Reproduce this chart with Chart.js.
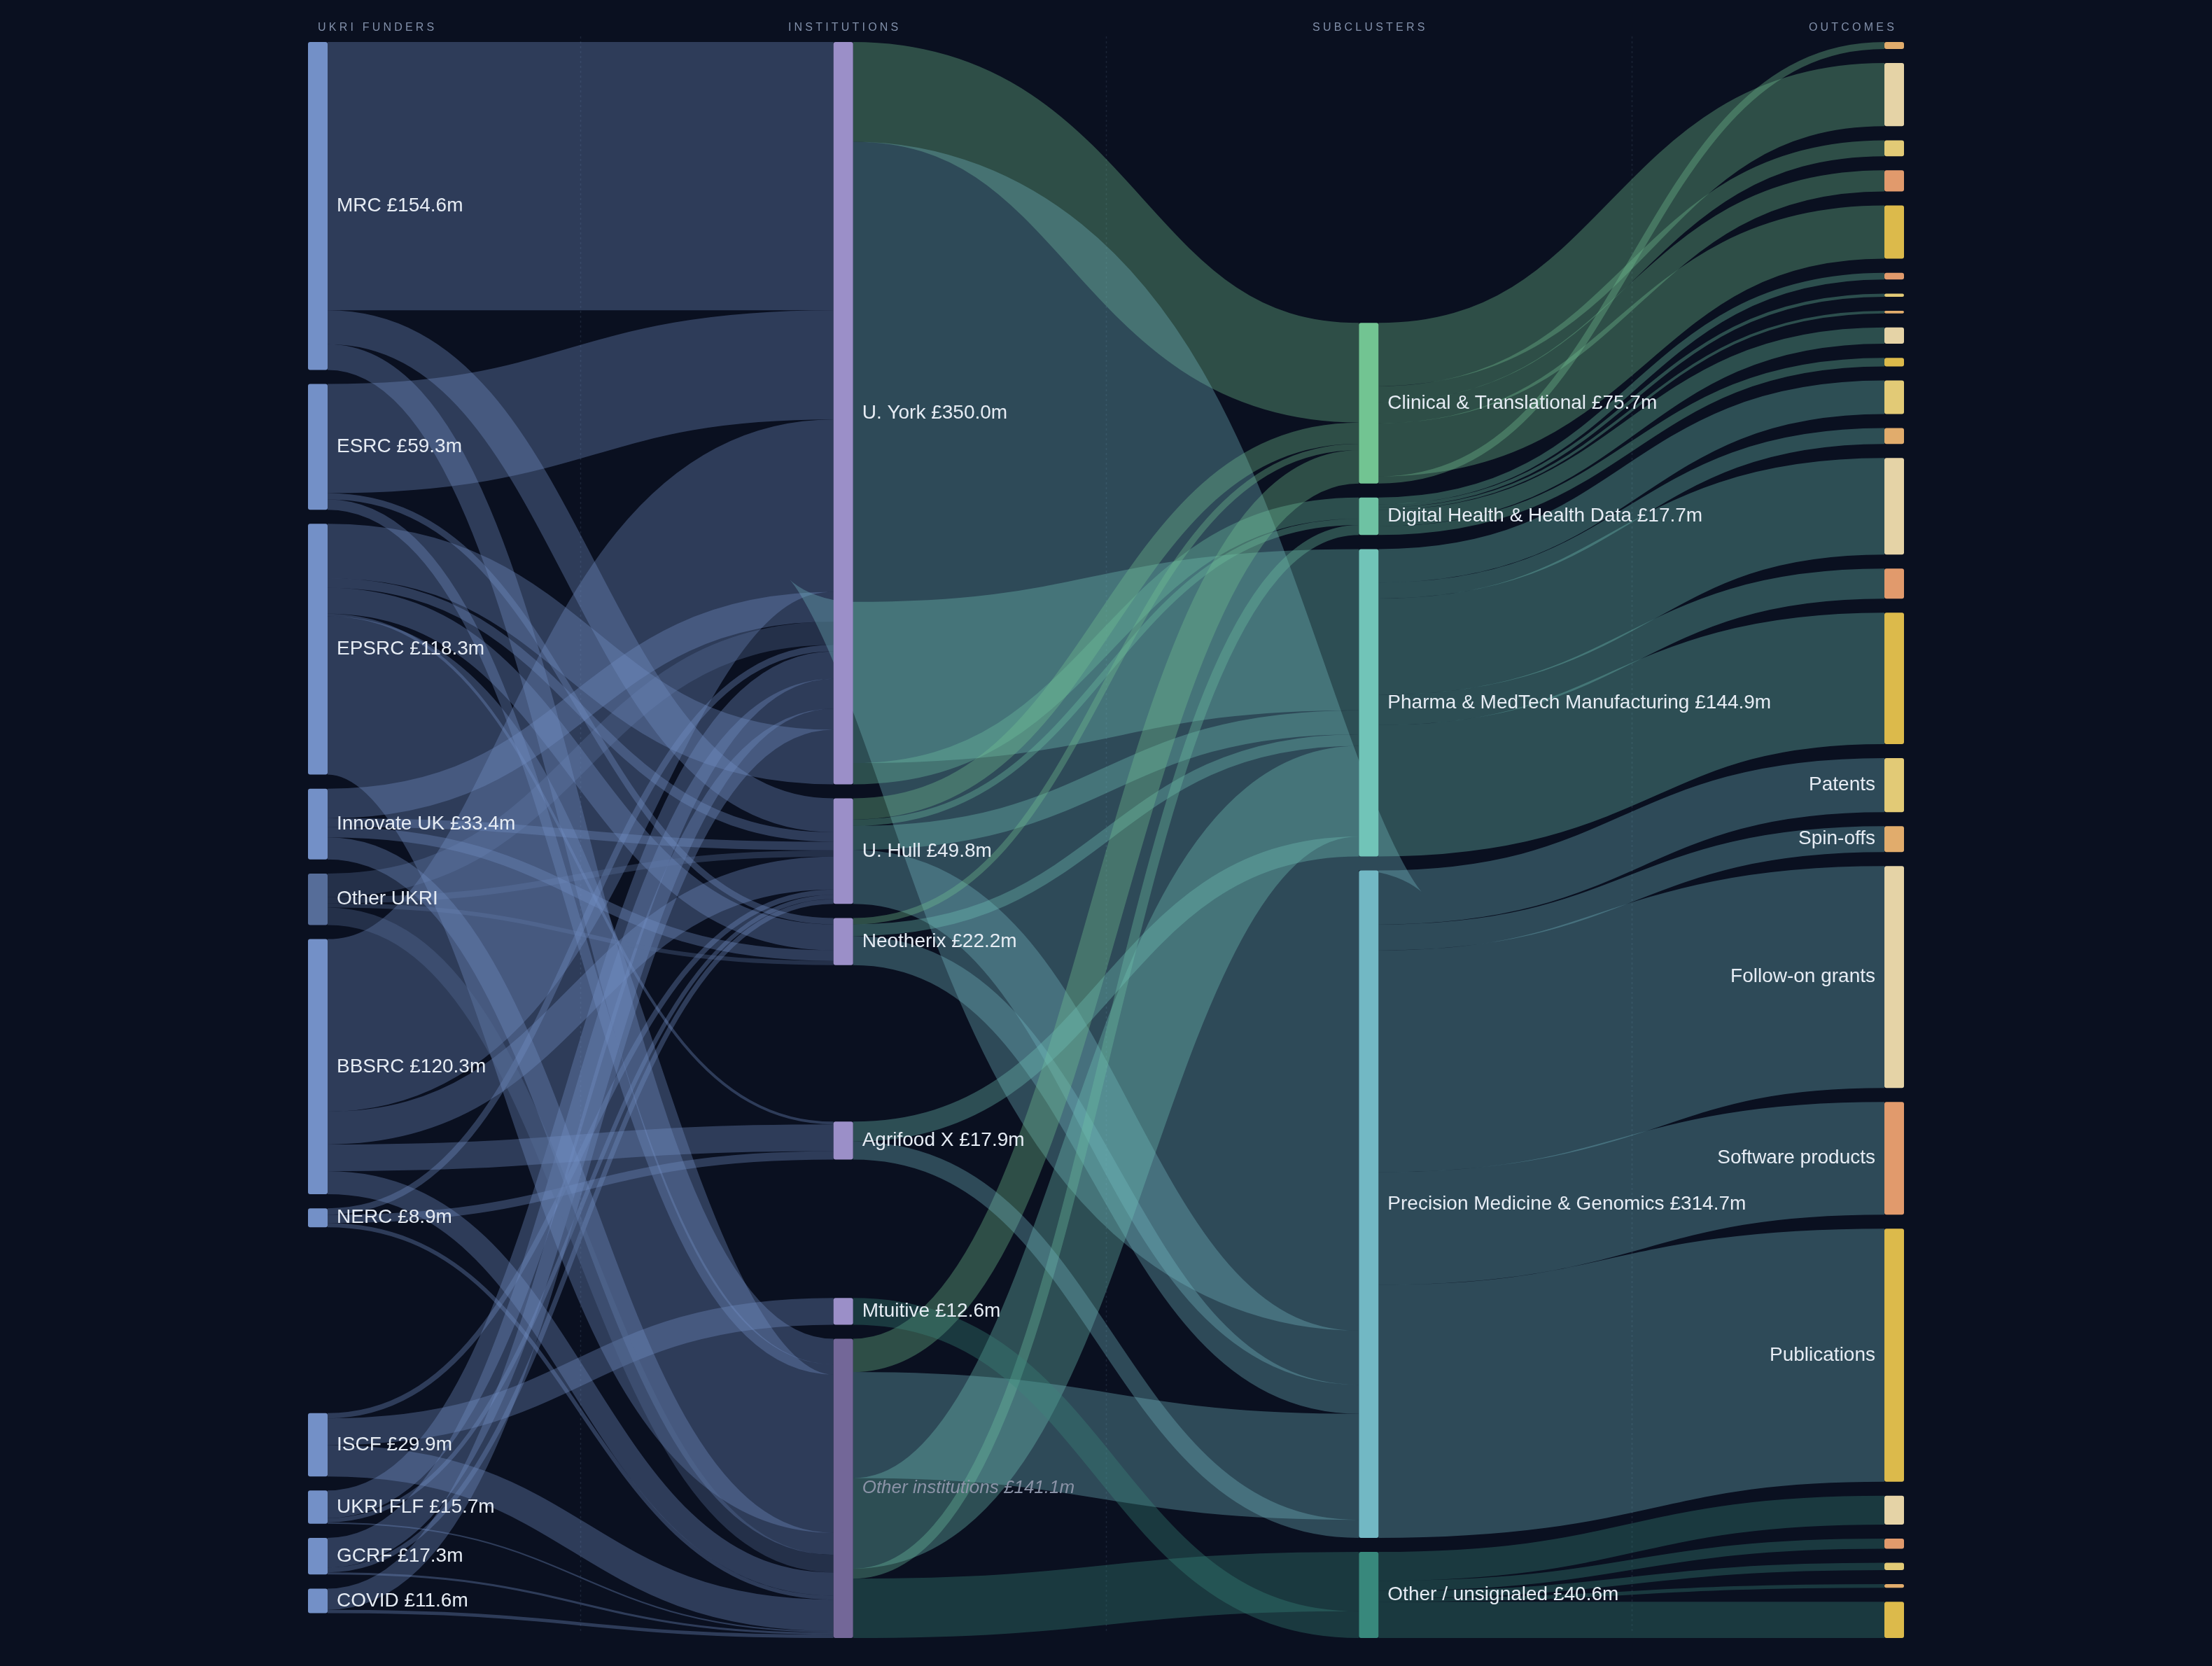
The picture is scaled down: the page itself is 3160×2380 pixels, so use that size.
<!DOCTYPE html>
<html>
<head>
<meta charset="utf-8">
<style>
  html, body { margin: 0; background: #0a1020; }
</style>
<script src="https://cdn.jsdelivr.net/npm/chart.js@4.4.1/dist/chart.umd.min.js"></script>
</head>
<body>
<canvas id="chart" width="3160" height="2380"></canvas>
<script>
const funders = ['MRC', 'ESRC', 'EPSRC', 'Innovate UK', 'Other UKRI', 'BBSRC', 'NERC', 'ISCF', 'UKRI FLF', 'GCRF', 'COVID'];
const institutions = ['U. York', 'U. Hull', 'Neotherix', 'Agrifood X', 'Mtuitive', 'Other institutions'];
const subclusters = ['Clinical & Translational', 'Digital Health & Health Data', 'Pharma & MedTech Manufacturing', 'Precision Medicine & Genomics', 'Other / unsignaled'];
const outcomes = ['Patents', 'Spin-offs', 'Follow-on grants', 'Software products', 'Publications'];

// funder -> institution, £m. Array order is the stacking order at both ends.
const fundingFlows = [
  ['MRC', 'U. York', 126.5],
  ['ESRC', 'U. York', 51.5],
  ['BBSRC', 'U. York', 81.3],
  ['Innovate UK', 'U. York', 14],
  ['Other UKRI', 'U. York', 11],
  ['NERC', 'U. York', 3],
  ['UKRI FLF', 'U. York', 13],
  ['GCRF', 'U. York', 14],
  ['COVID', 'U. York', 10],
  ['EPSRC', 'U. York', 25.7],
  ['MRC', 'U. Hull', 16],
  ['EPSRC', 'U. Hull', 4.5],
  ['Innovate UK', 'U. Hull', 4],
  ['Other UKRI', 'U. Hull', 3],
  ['BBSRC', 'U. Hull', 15.5],
  ['ISCF', 'U. Hull', 2.5],
  ['UKRI FLF', 'U. Hull', 2],
  ['GCRF', 'U. Hull', 2.3],
  ['ESRC', 'Neotherix', 3],
  ['EPSRC', 'Neotherix', 12.2],
  ['Innovate UK', 'Neotherix', 5],
  ['Other UKRI', 'Neotherix', 2],
  ['EPSRC', 'Agrifood X', 1.3],
  ['BBSRC', 'Agrifood X', 12.6],
  ['NERC', 'Agrifood X', 4],
  ['ISCF', 'Mtuitive', 12.6],
  ['MRC', 'Other institutions', 12.1],
  ['ESRC', 'Other institutions', 4.8],
  ['EPSRC', 'Other institutions', 74.6],
  ['Innovate UK', 'Other institutions', 10.4],
  ['Other UKRI', 'Other institutions', 8.3],
  ['BBSRC', 'Other institutions', 10.9],
  ['NERC', 'Other institutions', 1.9],
  ['ISCF', 'Other institutions', 14.8],
  ['UKRI FLF', 'Other institutions', 0.7],
  ['GCRF', 'Other institutions', 1],
  ['COVID', 'Other institutions', 1.6]
];

// institution -> subcluster, £m
const researchFlows = [
  ['U. York', 'Clinical & Translational', 47],
  ['U. York', 'Precision Medicine & Genomics', 217],
  ['U. York', 'Pharma & MedTech Manufacturing', 76],
  ['U. York', 'Digital Health & Health Data', 10],
  ['U. Hull', 'Clinical & Translational', 10],
  ['U. Hull', 'Digital Health & Health Data', 3],
  ['U. Hull', 'Pharma & MedTech Manufacturing', 11.3],
  ['U. Hull', 'Precision Medicine & Genomics', 25.5],
  ['Neotherix', 'Clinical & Translational', 3],
  ['Neotherix', 'Pharma & MedTech Manufacturing', 5.5],
  ['Neotherix', 'Precision Medicine & Genomics', 13.7],
  ['Other institutions', 'Clinical & Translational', 15.7],
  ['Other institutions', 'Precision Medicine & Genomics', 50],
  ['Other institutions', 'Pharma & MedTech Manufacturing', 42.7],
  ['Other institutions', 'Digital Health & Health Data', 4.7],
  ['Other institutions', 'Other / unsignaled', 28],
  ['Agrifood X', 'Pharma & MedTech Manufacturing', 9.4],
  ['Agrifood X', 'Precision Medicine & Genomics', 8.5],
  ['Mtuitive', 'Other / unsignaled', 12.6]
];

// subcluster -> outcome, £m
const outcomeFlows = [
  ['Clinical & Translational', 'Follow-on grants', 29.8],
  ['Clinical & Translational', 'Patents', 7.5],
  ['Clinical & Translational', 'Software products', 10.0],
  ['Clinical & Translational', 'Publications', 25.1],
  ['Clinical & Translational', 'Spin-offs', 3.3],
  ['Digital Health & Health Data', 'Software products', 3.2],
  ['Digital Health & Health Data', 'Patents', 1.5],
  ['Digital Health & Health Data', 'Spin-offs', 1.2],
  ['Digital Health & Health Data', 'Follow-on grants', 7.7],
  ['Digital Health & Health Data', 'Publications', 4.1],
  ['Pharma & MedTech Manufacturing', 'Patents', 15.8],
  ['Pharma & MedTech Manufacturing', 'Spin-offs', 7.5],
  ['Pharma & MedTech Manufacturing', 'Follow-on grants', 45.5],
  ['Pharma & MedTech Manufacturing', 'Software products', 14.2],
  ['Pharma & MedTech Manufacturing', 'Publications', 61.9],
  ['Precision Medicine & Genomics', 'Patents', 25.5],
  ['Precision Medicine & Genomics', 'Spin-offs', 12.2],
  ['Precision Medicine & Genomics', 'Follow-on grants', 104.6],
  ['Precision Medicine & Genomics', 'Software products', 53.1],
  ['Precision Medicine & Genomics', 'Publications', 119.3],
  ['Other / unsignaled', 'Follow-on grants', 13.6],
  ['Other / unsignaled', 'Software products', 4.8],
  ['Other / unsignaled', 'Patents', 3.4],
  ['Other / unsignaled', 'Spin-offs', 1.7],
  ['Other / unsignaled', 'Publications', 17.1]
];

// order of the outcome boxes in the last column, per subcluster
const outcomeStack = [
  ['Clinical & Translational', ['Spin-offs', 'Follow-on grants', 'Patents', 'Software products', 'Publications']],
  ['Digital Health & Health Data', ['Software products', 'Patents', 'Spin-offs', 'Follow-on grants', 'Publications']],
  ['Pharma & MedTech Manufacturing', ['Patents', 'Spin-offs', 'Follow-on grants', 'Software products', 'Publications']],
  ['Precision Medicine & Genomics', ['Patents', 'Spin-offs', 'Follow-on grants', 'Software products', 'Publications']],
  ['Other / unsignaled', ['Follow-on grants', 'Software products', 'Patents', 'Spin-offs', 'Publications']]
];
const labelledOutcomeGroup = 'Precision Medicine & Genomics';
const columnTitles = ['UKRI FUNDERS', 'INSTITUTIONS', 'SUBCLUSTERS', 'OUTCOMES'];

const BG = '#0a1020';
const funderColor = '#7390c7';
const otherFunderColor = '#566d99';
const institutionColor = '#9b8fc8';
const otherInstitutionColor = '#736798';
const subclusterColors = ['#72c492', '#6ec2a3', '#71c4b8', '#72b8c4', '#38887c'];
const outcomeColors = ['#e2ca76', '#e1ac6c', '#e5d3a6', '#e19a6c', '#dcba4b'];

const Y_MAX = 750;        // y axis units (≈ £m)
const NODE_PAD = 6.6;     // gap between boxes, in y units
const NODE_HALF = 14;     // px
const LABEL_FONT = '28px "Liberation Sans", Arial, sans-serif';

const sum = (arr, f) => arr.reduce((s, d) => s + f(d), 0);
const fmt = v => '£' + v.toFixed(1) + 'm';

function rgba(hex, a) {
  const n = parseInt(hex.slice(1), 16);
  return `rgba(${n >> 16}, ${(n >> 8) & 255}, ${n & 255}, ${a})`;
}

function buildGraph() {
  const nodes = [];
  const byKey = {};
  const add = (key, name, layer, color, extra) => {
    const n = Object.assign({ key, name, layer, color }, extra || {});
    nodes.push(n);
    byKey[key] = n;
  };
  funders.forEach(f => add('f:' + f, f, 0, f === 'Other UKRI' ? otherFunderColor : funderColor));
  institutions.forEach(i => add('i:' + i, i, 1, i === 'Other institutions' ? otherInstitutionColor : institutionColor));
  subclusters.forEach((s, k) => add('s:' + s, s, 2, subclusterColors[k]));
  outcomeStack.forEach(([s, list]) => list.forEach(o =>
    add('o:' + s + '|' + o, o, 3, outcomeColors[outcomes.indexOf(o)], { group: s })));

  const links = [];
  fundingFlows.forEach(([a, b, v]) => {
    const src = byKey['f:' + a];
    links.push({ source: src, target: byKey['i:' + b], value: v, color: src.color });
  });
  researchFlows.forEach(([a, b, v]) => {
    const tgt = byKey['s:' + b];
    links.push({ source: byKey['i:' + a], target: tgt, value: v, color: tgt.color });
  });
  outcomeFlows.forEach(([a, b, v]) => {
    const src = byKey['s:' + a];
    links.push({ source: src, target: byKey['o:' + a + '|' + b], value: v, color: src.color });
  });
  return { nodes, links };
}

// d3-sankey style layout (fixed node order, links kept in input order)
function layoutSankey(graph, y0, y1, nodePadding, iterations) {
  const { nodes, links } = graph;
  nodes.forEach(n => { n.sourceLinks = []; n.targetLinks = []; });
  links.forEach(l => { l.source.sourceLinks.push(l); l.target.targetLinks.push(l); });
  nodes.forEach(n => {
    n.value = Math.max(sum(n.sourceLinks, l => l.value), sum(n.targetLinks, l => l.value));
  });
  const columns = [];
  nodes.forEach(n => { (columns[n.layer] = columns[n.layer] || []).push(n); });

  const py = Math.min(nodePadding, (y1 - y0) / (Math.max(...columns.map(c => c.length)) - 1));
  const ky = Math.min(...columns.map(c => (y1 - y0 - (c.length - 1) * py) / sum(c, n => n.value)));

  columns.forEach(col => {
    let y = y0;
    col.forEach(n => {
      n.y0 = y;
      n.y1 = y + n.value * ky;
      y = n.y1 + py;
      n.sourceLinks.forEach(l => { l.width = l.value * ky; });
    });
    const s = (y1 - y + py) / (col.length + 1);
    col.forEach((n, i) => { n.y0 += s * (i + 1); n.y1 += s * (i + 1); });
  });

  const targetTop = (source, target) => {
    let y = source.y0 - (source.sourceLinks.length - 1) * py / 2;
    for (const l of source.sourceLinks) { if (l.target === target) break; y += l.width + py; }
    for (const l of target.targetLinks) { if (l.source === source) break; y -= l.width; }
    return y;
  };
  const sourceTop = (source, target) => {
    let y = target.y0 - (target.targetLinks.length - 1) * py / 2;
    for (const l of target.targetLinks) { if (l.source === source) break; y += l.width + py; }
    for (const l of source.sourceLinks) { if (l.target === target) break; y -= l.width; }
    return y;
  };
  const pushDown = (col, y, i, alpha) => {
    for (; i < col.length; ++i) {
      const n = col[i];
      const dy = (y - n.y0) * alpha;
      if (dy > 1e-6) { n.y0 += dy; n.y1 += dy; }
      y = n.y1 + py;
    }
  };
  const pushUp = (col, y, i, alpha) => {
    for (; i >= 0; --i) {
      const n = col[i];
      const dy = (n.y1 - y) * alpha;
      if (dy > 1e-6) { n.y0 -= dy; n.y1 -= dy; }
      y = n.y0 - py;
    }
  };
  const resolve = (col, alpha) => {
    const i = col.length >> 1;
    const subject = col[i];
    pushUp(col, subject.y0 - py, i - 1, alpha);
    pushDown(col, subject.y1 + py, i + 1, alpha);
    pushUp(col, y1, col.length - 1, alpha);
    pushDown(col, y0, 0, alpha);
  };

  for (let it = 0; it < iterations; ++it) {
    const alpha = Math.pow(0.99, it);
    const beta = Math.max(1 - alpha, (it + 1) / iterations);
    for (let c = columns.length - 2; c >= 0; --c) {
      columns[c].forEach(source => {
        let y = 0, w = 0;
        source.sourceLinks.forEach(l => { y += sourceTop(source, l.target) * l.value; w += l.value; });
        if (!(w > 0)) return;
        const dy = (y / w - source.y0) * alpha;
        source.y0 += dy; source.y1 += dy;
      });
      resolve(columns[c], beta);
    }
    for (let c = 1; c < columns.length; ++c) {
      columns[c].forEach(target => {
        let y = 0, w = 0;
        target.targetLinks.forEach(l => { y += targetTop(l.source, target) * l.value; w += l.value; });
        if (!(w > 0)) return;
        const dy = (y / w - target.y0) * alpha;
        target.y0 += dy; target.y1 += dy;
      });
      resolve(columns[c], beta);
    }
  }

  nodes.forEach(n => {
    let a = n.y0, b = n.y0;
    n.sourceLinks.forEach(l => { l.y0 = a + l.width / 2; a += l.width; });
    n.targetLinks.forEach(l => { l.y1 = b + l.width / 2; b += l.width; });
  });
  return graph;
}

const graph = layoutSankey(buildGraph(), 0, Y_MAX, NODE_PAD, 6);

const sankeyPlugin = {
  id: 'sankey',
  beforeDraw(chart) {
    const ctx = chart.ctx;
    ctx.save();
    ctx.fillStyle = BG;
    ctx.fillRect(0, 0, chart.width, chart.height);
    ctx.restore();
  },
  afterDatasetsDraw(chart) {
    const ctx = chart.ctx;
    const xs = chart.scales.x;
    const ys = chart.scales.y;
    const area = chart.chartArea;
    const px = v => ys.getPixelForValue(v);
    const unit = Math.abs(px(1) - px(0));

    ctx.save();

    // faint dashed guides between columns
    ctx.strokeStyle = 'rgba(120, 140, 175, 0.16)';
    ctx.lineWidth = 1.5;
    ctx.setLineDash([3, 4]);
    [0.5, 1.5, 2.5].forEach(v => {
      const x = Math.round(xs.getPixelForValue(v)) + 0.5;
      ctx.beginPath();
      ctx.moveTo(x, area.top - 8);
      ctx.lineTo(x, area.bottom - 9);
      ctx.stroke();
    });
    ctx.setLineDash([]);

    // column titles
    ctx.font = '16px "Liberation Sans", Arial, sans-serif';
    ctx.letterSpacing = '4.2px';
    ctx.fillStyle = '#8290aa';
    ctx.textBaseline = 'middle';
    columnTitles.forEach((t, i) => {
      const x = xs.getPixelForValue(i);
      ctx.textAlign = i === 0 ? 'left' : (i === columnTitles.length - 1 ? 'right' : 'center');
      ctx.fillText(t, i === columnTitles.length - 1 ? x + 4 : (i === 0 ? x : x + 2), area.top - 20);
    });
    ctx.letterSpacing = '0px';

    // links
    graph.links.forEach(l => {
      const sx = xs.getPixelForValue(l.source.layer) + NODE_HALF;
      const tx = xs.getPixelForValue(l.target.layer) - NODE_HALF;
      const sy = px(l.y0);
      const ty = px(l.y1);
      const mx = (sx + tx) / 2;
      ctx.beginPath();
      ctx.moveTo(sx, sy);
      ctx.bezierCurveTo(mx, sy, mx, ty, tx, ty);
      ctx.lineWidth = Math.max(1, l.width * unit);
      ctx.strokeStyle = rgba(l.color, 0.35);
      ctx.stroke();
    });

    // nodes
    graph.nodes.forEach(n => {
      const cx = xs.getPixelForValue(n.layer);
      const top = px(n.y0);
      const h = Math.max(1, px(n.y1) - top);
      ctx.beginPath();
      ctx.roundRect(cx - NODE_HALF, top, NODE_HALF * 2, h, Math.min(3, h / 2));
      ctx.fillStyle = n.color;
      ctx.fill();
    });

    // labels
    ctx.textBaseline = 'middle';
    graph.nodes.forEach(n => {
      const cx = xs.getPixelForValue(n.layer);
      const cy = (px(n.y0) + px(n.y1)) / 2;
      if (n.layer === 3) {
        if (n.group !== labelledOutcomeGroup) return;
        ctx.font = LABEL_FONT;
        ctx.fillStyle = '#e6ecf4';
        ctx.textAlign = 'right';
        ctx.fillText(n.name, cx - NODE_HALF - 13, cy);
        return;
      }
      const text = n.name === 'Other UKRI' ? n.name : n.name + ' ' + fmt(n.value);
      if (n.name === 'Other institutions') {
        ctx.font = 'italic 26px "Liberation Sans", Arial, sans-serif';
        ctx.fillStyle = '#8b93a7';
      } else {
        ctx.font = LABEL_FONT;
        ctx.fillStyle = '#e6ecf4';
      }
      ctx.textAlign = 'left';
      ctx.fillText(text, cx + NODE_HALF + 13, cy);
    });

    ctx.restore();
  }
};

new Chart(document.getElementById('chart'), {
  type: 'scatter',
  data: { datasets: [{ data: [] }] },
  options: {
    responsive: false,
    animation: false,
    devicePixelRatio: 1,
    layout: { padding: { left: 454, right: 454, top: 60, bottom: 40 } },
    plugins: { legend: { display: false }, tooltip: { enabled: false } },
    scales: {
      x: { type: 'linear', min: 0, max: 3, display: false },
      y: { type: 'linear', min: 0, max: Y_MAX, reverse: true, display: false }
    }
  },
  plugins: [sankeyPlugin]
});
</script>
</body>
</html>
